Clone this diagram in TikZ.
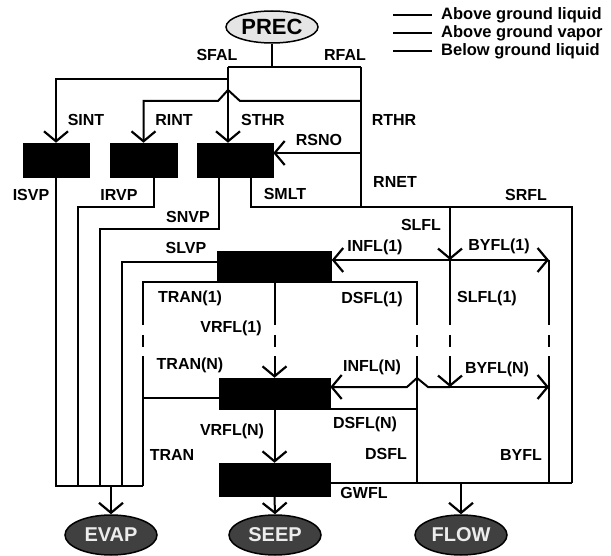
\documentclass[tikz,border=0pt]{standalone}
\usepackage{fontspec}
\setmainfont{Liberation Sans}
\usetikzlibrary{arrows.meta,calc,shapes.geometric}
\begin{document}
\begin{tikzpicture}[x=1pt,y=-1pt,
  flow/.style={line width=2pt,line join=miter},
  arr/.style={flow,-{Straight Barb[length=10pt,width=24pt,line width=2.2pt]}},
  blk/.style={draw=black,fill=black,inner sep=0pt,line width=0.5pt},
  lab/.style={font=\fontsize{16}{16}\selectfont\bfseries,inner sep=0pt},
  ell/.style={ellipse,draw=black,line width=1.5pt,inner sep=0pt,
    minimum width=92pt,minimum height=40pt,font=\fontsize{20}{20}\selectfont\bfseries},
  leg/.style={line width=1.2pt}]
\useasboundingbox (0,0) rectangle (611,556);

% terminal ellipses
\node[ell,fill=gray!20,minimum height=32pt,font=\fontsize{22}{22}\selectfont\bfseries] (prec) at (272,27) {PREC};
\node[ell,fill=gray!50!black,text=gray!15] (evap) at (111,535) {EVAP};
\node[ell,fill=gray!50!black,text=gray!15] (seep) at (275,535) {SEEP};
\node[ell,fill=gray!50!black,text=gray!15] (flow) at (461,535) {FLOW};

% legend
\coordinate (l1a) at (393,15); \coordinate (l1b) at (432,15);
\coordinate (l2a) at (393,33); \coordinate (l2b) at (432,33);
\coordinate (l3a) at (393,51); \coordinate (l3b) at (432,51);
\draw[leg] (l1a) -- (l1b); \draw[leg] (l2a) -- (l2b); \draw[leg] (l3a) -- (l3b);
\node[lab,anchor=west,font=\fontsize{16.5}{17}\selectfont\bfseries] (t1) at (441,15) {Above ground liquid};
\node[lab,anchor=west,font=\fontsize{16.5}{17}\selectfont\bfseries] (t2) at (441,33) {Above ground vapor};
\node[lab,anchor=west,font=\fontsize{16.5}{17}\selectfont\bfseries] (t3) at (441,51) {Below ground liquid};

% storage boxes
\node[blk,minimum width=66pt,minimum height=34pt] (box1) at (56,160) {};
\node[blk,minimum width=67pt,minimum height=34pt] (box2) at (143.5,160) {};
\node[blk,minimum width=76pt,minimum height=34pt] (box3) at (235,160) {};
\node[blk,minimum width=114pt,minimum height=31pt] (box4) at (274.5,266.5) {};
\node[blk,minimum width=111pt,minimum height=31pt] (box5) at (274.5,393.5) {};
\node[blk,minimum width=111pt,minimum height=33pt] (box6) at (274.5,479.5) {};

% junction coordinates
\coordinate (sp) at (272,67);
\coordinate (sl) at (228,67);
\coordinate (sr) at (361,67);
\coordinate (sint) at (228,79);
\coordinate (rint) at (361,101);
\coordinate (hopR) at (240,101);
\coordinate (hopT) at (228,90);
\coordinate (hopL) at (218,101);
\coordinate (rsno) at (361,153);
\coordinate (rnet) at (361,207);
\coordinate (botL) at (56,486);
\coordinate (botR) at (143,486);
\coordinate (evin) at (111,486);
\coordinate (irvp) at (154,177);
\coordinate (irvpA) at (78,207);
\coordinate (irvpB) at (78,486);
\coordinate (snvp) at (219,177);
\coordinate (snvpA) at (100,229);
\coordinate (snvpB) at (100,486);
\coordinate (slvp) at (218,262);
\coordinate (slvpB) at (122,486);
\coordinate (tran1) at (218,282);
\coordinate (tranA) at (143,325);
\coordinate (tranB) at (143,335);
\coordinate (tranC) at (143,347);
\coordinate (tranD) at (143,356);
\coordinate (tranN) at (143,398);
\coordinate (smlt) at (251,177);
\coordinate (srfl) at (572,207);
\coordinate (srflB) at (572,483);
\coordinate (slfl) at (450,207);
\coordinate (jA) at (450,260);
\coordinate (byA) at (549,260);
\coordinate (slA) at (450,325);
\coordinate (slB) at (450,335);
\coordinate (slC) at (450,347);
\coordinate (slD) at (450,356);
\coordinate (jB) at (450,387);
\coordinate (byB) at (549,387);
\coordinate (byA1) at (549,325);
\coordinate (byA2) at (549,335);
\coordinate (byA3) at (549,347);
\coordinate (byA4) at (549,356);
\coordinate (byBot) at (549,483);
\coordinate (ds1) at (332,282);
\coordinate (dsA) at (417,325);
\coordinate (dsB) at (417,335);
\coordinate (dsC) at (417,347);
\coordinate (dsD) at (417,356);
\coordinate (dsBot) at (417,483);
\coordinate (hop2R) at (428,387);
\coordinate (hop2T) at (417,378);
\coordinate (hop2L) at (407,387);
\coordinate (dsN) at (330,409);
\coordinate (dsNR) at (417,409);
\coordinate (gw) at (330,483);
\coordinate (flin) at (461,483);
\coordinate (vrA) at (274.5,325);
\coordinate (vrB) at (274.5,335);
\coordinate (vrC) at (274.5,347);
\coordinate (vrD) at (274.5,356);

% above ground liquid
\draw[flow] (prec.south) -- (sp);
\draw[flow] (sl) -- (sr);
\draw[arr] (sl) -- (sl |- box3.north);
\draw[arr] (sint) -| (box1.north);
\draw[arr] (rint) -- (hopR) -- (hopT) -- (hopL) -| (box2.north);
\draw[flow] (sr) -- (rnet);
\draw[arr] (rsno) -- (rsno -| box3.east);
\draw[flow] (smlt) |- (rnet) -- (srfl) -- (srflB);
% vapor
\draw[flow] (box1.south) -- (botL) -- (botR);
\draw[arr] (evin) -- (evap.north);
\draw[flow] (irvp) |- (irvpA) -- (irvpB);
\draw[flow] (snvp) |- (snvpA) -- (snvpB);
\draw[flow] (slvp) -| (slvpB);
\draw[flow] (tran1) -| (tranA);
\draw[flow] (tranB) -- (tranC);
\draw[flow] (tranD) -- (botR);
\draw[flow] (tranN) -- (tranN -| box5.west);
% below ground
\draw[arr] (slfl) -- (jA);
\draw[arr] (jA) -- (jA -| box4.east);
\draw[arr] (jA) -- (byA);
\draw[flow] (jA) -- (slA);
\draw[flow] (slB) -- (slC);
\draw[arr] (slD) -- (jB);
\draw[flow] (byA) -- (byA1);
\draw[flow] (byA2) -- (byA3);
\draw[flow] (byA4) -- (byBot);
\draw[flow] (box4.south) -- (vrA);
\draw[flow] (vrB) -- (vrC);
\draw[arr] (vrD) -- (box5.north);
\draw[flow] (ds1) -| (dsA);
\draw[flow] (dsB) -- (dsC);
\draw[flow] (dsD) -- (dsBot);
\draw[arr] (jB) -- (hop2R) -- (hop2T) -- (hop2L) -- (hop2L -| box5.east);
\draw[arr] (jB) -- (byB);
\draw[flow] (dsN) -- (dsNR);
\draw[arr] (box5.south) -- (box6.north);
\draw[flow] (gw) -- (srflB);
\draw[arr] (flin) -- (flow.north);
\draw[arr] (box6.south) -- (seep.north);

% labels
\node[lab] at (217,55) {SFAL};
\node[lab] at (345,55) {RFAL};
\node[lab] at (86,120) {SINT};
\node[lab] at (174,120) {RINT};
\node[lab] at (263,120) {STHR};
\node[lab] at (394,120) {RTHR};
\node[lab] at (319,140) {RSNO};
\node[lab] at (31,195) {ISVP};
\node[lab] at (119,195) {IRVP};
\node[lab] at (285,194) {SMLT};
\node[lab] at (395,182) {RNET};
\node[lab] at (188,217) {SNVP};
\node[lab] at (526,195) {SRFL};
\node[lab] at (421,225) {SLFL};
\node[lab] at (186,248) {SLVP};
\node[lab] at (375,247) {INFL(1)};
\node[lab] at (499,246) {BYFL(1)};
\node[lab] at (190,298) {TRAN(1)};
\node[lab] at (372,299) {DSFL(1)};
\node[lab] at (487,298) {SLFL(1)};
\node[lab] at (231,328) {VRFL(1)};
\node[lab] at (190,365) {TRAN(N)};
\node[lab] at (372,367) {INFL(N)};
\node[lab] at (497,369) {BYFL(N)};
\node[lab] at (232,431) {VRFL(N)};
\node[lab] at (365,424) {DSFL(N)};
\node[lab] at (172,455) {TRAN};
\node[lab] at (386,454) {DSFL};
\node[lab] at (521,455) {BYFL};
\node[lab] at (364,493) {GWFL};
\end{tikzpicture}
\end{document}
